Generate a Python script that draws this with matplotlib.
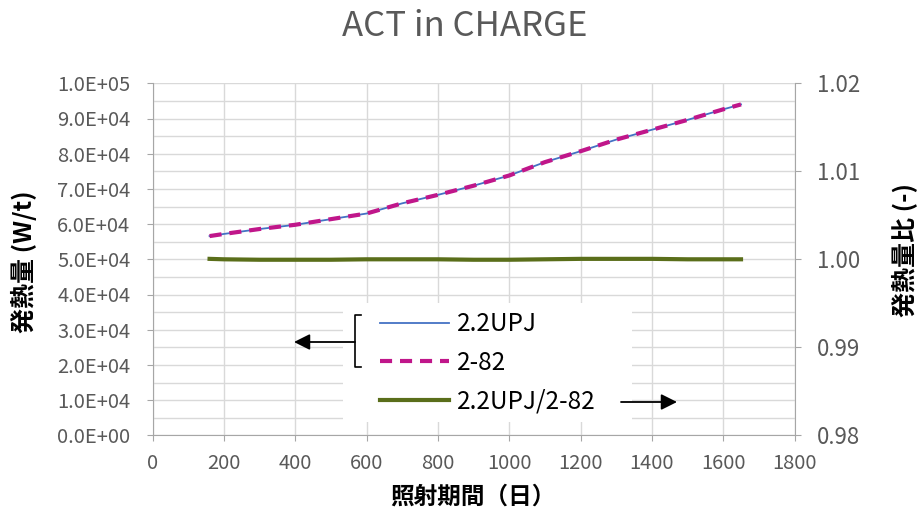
import matplotlib
matplotlib.use("Agg")
import matplotlib.pyplot as plt
from matplotlib.ticker import FuncFormatter, MultipleLocator
from matplotlib.patches import Rectangle
from matplotlib.lines import Line2D

plt.rcParams['font.family'] = ['Noto Sans CJK JP', 'DejaVu Sans']

# 照射期間 (日)
days = [160, 200, 300, 400, 500, 600, 700, 800, 900, 1000,
        1100, 1200, 1300, 1400, 1500, 1600, 1650]
# 発熱量 (W/t)
heat_upj = [56600, 57200, 58600, 59800, 61400, 63000, 65900, 68300, 70900, 73800,
            77600, 80700, 84000, 86800, 89600, 92600, 94000]
heat_282 = [56597, 57200, 58603, 59803, 61403, 63000, 65900, 68300, 70904, 73804,
            77600, 80696, 83996, 86796, 89600, 92600, 94000]
# 発熱量比 (-)
ratio = [1.00005, 1.0000, 0.99995, 0.99995, 0.99995, 1.0000, 1.0000, 1.0000, 0.99995, 0.99995,
         1.0000, 1.00005, 1.00005, 1.00005, 1.0000, 1.0000, 1.0000]

labels = ['2.2UPJ', '2-82', '2.2UPJ/2-82']

W, H = 924, 518
fig = plt.figure(figsize=(W / 100, H / 100), dpi=100)
ax = fig.add_axes([152.5 / W, 1 - 435.3 / H, 642 / W, 352 / H])
ax2 = ax.twinx()

grey = '#595959'
spine_c = '#a6a6a6'

l1, = ax.plot(days, heat_upj, color='#4472C4', lw=1.3, zorder=3)
l2, = ax.plot(days, heat_282, color='#C0168A', lw=3, ls=(0, (2.9, 1.9)), zorder=4)
l3, = ax2.plot(days, ratio, color='#5A6E1A', lw=3, zorder=3)

ax.set_xlim(0, 1800)
ax.set_ylim(0, 100000)
ax2.set_ylim(0.98, 1.02)
ax.xaxis.set_major_locator(MultipleLocator(200))
ax.yaxis.set_major_locator(MultipleLocator(10000))
ax.yaxis.set_minor_locator(MultipleLocator(5000))
ax2.yaxis.set_major_locator(MultipleLocator(0.01))
ax.yaxis.set_major_formatter(FuncFormatter(lambda v, p: f"{v:.1E}"))
ax2.yaxis.set_major_formatter(FuncFormatter(lambda v, p: f"{v:.2f}"))

ax.set_axisbelow(True)
ax.grid(True, which='both', axis='y', color='#d9d9d9', lw=1.0)
ax.grid(True, which='major', axis='x', color='#d9d9d9', lw=1.0)

for a in (ax, ax2):
    a.spines['top'].set_visible(False)
    for s in ('left', 'bottom', 'right'):
        a.spines[s].set_color(spine_c)
ax.spines['right'].set_visible(False)
ax2.spines['left'].set_visible(False)
ax2.spines['bottom'].set_visible(False)

ax.tick_params(axis='y', which='major', length=4, color=spine_c, labelcolor=grey,
               labelsize=14.5, pad=12)
ax.tick_params(axis='y', which='minor', length=0)
ax.tick_params(axis='x', length=4, color=spine_c, labelcolor=grey, labelsize=14.5, pad=9)
ax2.tick_params(axis='y', length=4, color=spine_c, labelcolor=grey, labelsize=16, pad=12)

# white legend area hiding the grid
ax.add_patch(Rectangle((0.297, 0.038), 0.450, 0.338, transform=ax.transAxes,
                       facecolor='white', edgecolor='none', zorder=1))

leg = ax2.legend([l1, l2, l3], labels, loc='upper left',
                 bbox_to_anchor=(0.335, 0.387), bbox_transform=ax.transAxes,
                 frameon=False, borderpad=0, fontsize=17.5, handlelength=2.85,
                 handletextpad=0.33, labelspacing=0.52)

# bracket and arrows
def fx(x):
    return x / W

def fy(y):
    return 1 - y / H

fig.add_artist(Line2D([fx(361), fx(355), fx(355), fx(361)],
                      [fy(315), fy(315), fy(367), fy(367)],
                      color='black', lw=1.2, transform=fig.transFigure))
ax2.annotate('', xy=(fx(294), fy(342)), xytext=(fx(355), fy(342)),
             xycoords='figure fraction', textcoords='figure fraction',
             arrowprops=dict(arrowstyle='-|>', color='black', lw=1.3,
                             mutation_scale=24, shrinkA=0, shrinkB=0))
ax2.annotate('', xy=(fx(677), fy(402)), xytext=(fx(621), fy(402)),
             xycoords='figure fraction', textcoords='figure fraction',
             arrowprops=dict(arrowstyle='-|>', color='black', lw=1.3,
                             mutation_scale=24, shrinkA=0, shrinkB=0))

fig.text(fx(465), fy(27), 'ACT in CHARGE', ha='center', va='center',
         fontsize=25, color=grey)
fig.text(fx(24), fy(262), '発熱量 (W/t)', rotation=90, ha='center', va='center',
         fontsize=18, fontweight='bold', color='black')
fig.text(fx(904), fy(250), '発熱量比 (-)', rotation=90, ha='center', va='center',
         fontsize=18, fontweight='bold', color='black')
fig.text(fx(473), fy(497), '照射期間（日）', ha='center', va='center',
         fontsize=17, fontweight='bold', color='black')

fig.savefig('out.png', dpi=100)
